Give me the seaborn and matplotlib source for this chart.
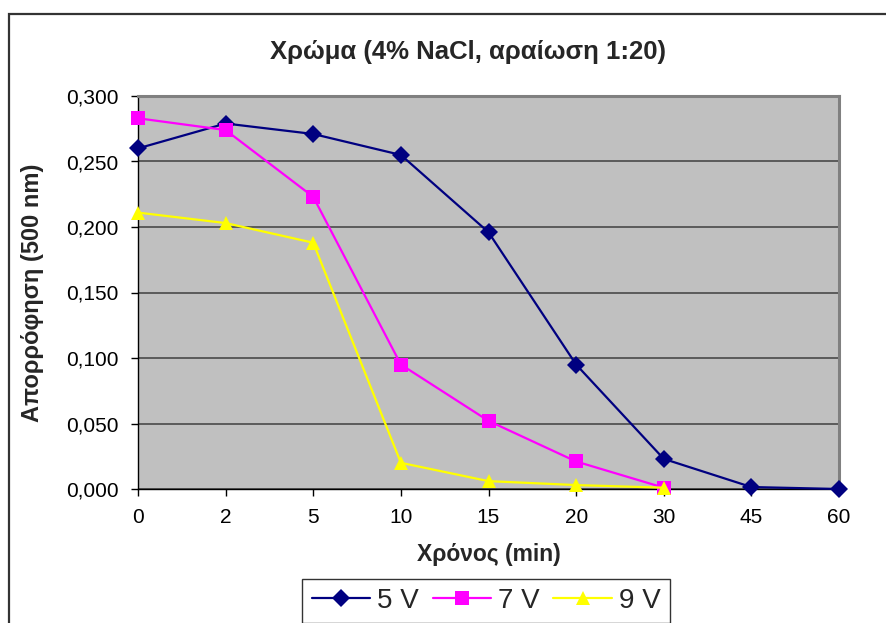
import matplotlib
matplotlib.use("Agg")
import matplotlib.pyplot as plt
from matplotlib.patches import Rectangle
from matplotlib.lines import Line2D
from matplotlib.ticker import FuncFormatter, MultipleLocator
import pandas as pd
import seaborn as sns

# Sampling times (min), shown as evenly spaced categories
times = ["0", "2", "5", "10", "15", "20", "30", "45", "60"]

# Absorbance at 500 nm for each applied voltage
abs_5v = [0.260, 0.279, 0.271, 0.255, 0.196, 0.095, 0.023, 0.0015, 0.000]
abs_7v = [0.283, 0.274, 0.223, 0.095, 0.052, 0.021, 0.001]
abs_9v = [0.211, 0.203, 0.188, 0.020, 0.006, 0.003, 0.001]

series_names = ["5 V", "7 V", "9 V"]
series_values = [abs_5v, abs_7v, abs_9v]

rows = []
for name, vals in zip(series_names, series_values):
    for i, v in enumerate(vals):
        rows.append({"pos": i, "time": times[i], "series": name, "abs": v})
df = pd.DataFrame(rows)

sns.set_theme(style="white")
plt.rcParams["font.family"] = ["Liberation Sans", "DejaVu Sans"]

fig = plt.figure(figsize=(8.87, 6.23), dpi=100)
ax = fig.add_axes([138 / 887, 1 - 489 / 623, (839 - 138) / 887, (489 - 96) / 623])
ax.set_facecolor("#C0C0C0")

palette = {"5 V": "#000080", "7 V": "#FF00FF", "9 V": "#FFFF00"}
markers = {"5 V": "D", "7 V": "s", "9 V": "^"}
msize = {"5 V": 9, "7 V": 10, "9 V": 10.5}

sns.lineplot(data=df, x="pos", y="abs", hue="series", style="series",
             palette=palette, markers=markers, dashes=False, ax=ax,
             linewidth=1.6, markersize=10, markeredgewidth=0,
             legend=False, zorder=3)
for ln, name in zip(ax.lines, series_names):
    ln.set_clip_on(False)
    ln.set_markersize(msize[name])

ax.set_xlim(0, len(times) - 1)
ax.set_ylim(0, 0.3)
ax.set_xticks(range(len(times)))
ax.set_xticklabels(times)
ax.yaxis.set_major_locator(MultipleLocator(0.05))
ax.yaxis.set_major_formatter(FuncFormatter(lambda v, p: f"{v:.3f}".replace(".", ",")))

ax.grid(axis="y", color="#4a4a4a", linewidth=1.2, zorder=1)
ax.set_axisbelow(True)

ax.tick_params(axis="both", which="major", direction="out", length=5, width=1,
               color="black", labelsize=15, labelcolor="black", pad=9,
               left=True, bottom=True)
for side in ["left", "bottom"]:
    ax.spines[side].set_color("black")
    ax.spines[side].set_linewidth(1.0)
for side in ["top", "right"]:
    ax.spines[side].set_color("#808080")
    ax.spines[side].set_linewidth(2.2)

ax.set_xlabel("Χρόνος (min)", fontsize=16.5, fontweight="bold", labelpad=11)
ax.set_ylabel("Απορρόφηση (500 nm)", fontsize=17, fontweight="bold", labelpad=16)
fig.text(468 / 887, 1 - 52 / 623, "Χρώμα (4% NaCl, αραίωση 1:20)",
         ha="center", va="center", fontsize=18.5, fontweight="bold")

# Legend below the axis title
handles = [Line2D([], [], color=palette[n], marker=markers[n], markersize=msize[n],
                  markeredgewidth=0, linewidth=1.6) for n in series_names]
leg = fig.legend(handles, series_names, loc="upper center", ncol=3,
                 bbox_to_anchor=(486 / 887, 1 - 579 / 623), fontsize=20,
                 frameon=True, fancybox=False, edgecolor="black",
                 handlelength=2.1, handletextpad=0.25, columnspacing=0.5,
                 borderpad=0.33, borderaxespad=0)
leg.get_frame().set_linewidth(1.0)

# Outer chart border
fig.add_artist(Rectangle((9 / 887, -0.2), 2.0, 1 - 14 / 623 + 0.2,
                         transform=fig.transFigure, fill=False,
                         edgecolor="#333333", linewidth=1.6))

fig.savefig("out.png", dpi=100, facecolor="white")
